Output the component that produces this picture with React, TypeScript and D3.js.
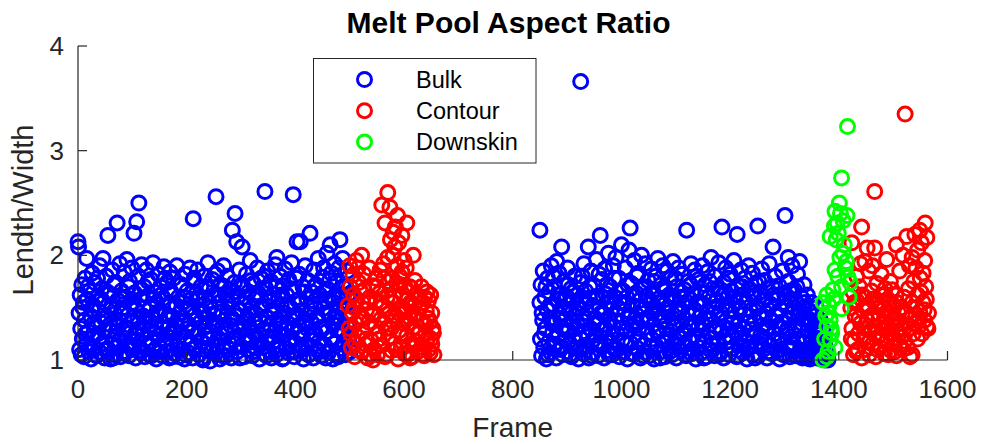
import React from "react";
import * as d3 from "d3";

// ---- Data (frame, length/width) ----
const bulk: [number, number][] = [
[0,2.13],[1,2.08],[2,1.45],[3,1.1],[4,1.62],[5,1.3],[6,1.05],[7,1.72],[8,1.2],[9,1.5],
[11,1.03],[12,1.38],[13,1.78],[15,1.15],[16,1.97],[17,1.58],[19,1.27],[20,1.08],[21,1.66],[23,1.42],
[24,1.01],[26,1.83],[27,1.21],[28,1.52],[30,1.12],[31,1.74],[33,1.33],[34,1.04],[35,1.6],[37,1.25],
[38,1.47],[40,1.9],[41,1.07],[42,1.36],[44,1.68],[45,1.16],[46,1.97],[47,1.55],[49,1.02],[50,1.29],
[52,1.8],[53,1.41],[55,2.19],[56,1.1],[57,1.63],[59,1.34],[60,1.01],[61,1.49],[63,1.86],[64,1.19],
[66,1.72],[67,1.05],[68,1.44],[70,1.27],[72,2.31],[73,1.57],[74,1.13],[76,1.38],[77,1.92],[78,1.03],
[80,1.66],[81,1.22],[83,1.5],[84,1.08],[85,1.84],[87,1.31],[88,1.6],[90,1.96],[91,1.15],[92,1.43],
[94,1.04],[95,1.75],[96,1.26],[98,1.54],[99,1.88],[100,1.1],[102,1.37],[103,2.21],[104,1.64],[106,1.02],
[107,1.48],[108,2.32],[109,1.19],[111,1.8],[112,2.5],[113,1.3],[115,1.07],[116,1.58],[117,1.91],[119,1.24],
[120,1.42],[122,1.7],[123,1.03],[124,1.35],[126,1.86],[127,1.14],[128,1.61],[130,1.28],[131,1.05],[133,1.5],
[134,1.77],[136,1.18],[137,1.4],[138,1.93],[140,1.09],[141,1.65],[143,1.32],[144,1.01],[145,1.55],[147,1.23],
[148,1.82],[150,1.46],[151,1.12],[152,1.7],[154,1.36],[155,1.04],[157,1.59],[158,1.89],[159,1.2],[161,1.44],
[162,1.08],[164,1.74],[165,1.3],[166,1.52],[168,1.02],[169,1.84],[171,1.25],[172,1.63],[173,1.14],[175,1.41],
[176,1.78],[178,1.06],[179,1.5],[180,1.33],[182,1.9],[183,1.18],[185,1.6],[186,1.03],[187,1.45],[189,1.27],
[190,1.72],[192,1.1],[193,1.55],[194,1.37],[196,1.01],[197,1.82],[199,1.22],[200,1.48],[201,1.66],[203,1.07],
[204,1.34],[206,1.88],[207,1.15],[208,1.58],[210,1.29],[211,1.02],[212,2.35],[213,1.75],[215,1.43],[216,1.11],
[218,1.64],[219,1.24],[220,1.86],[222,1.05],[223,1.52],[225,1.36],[226,1.7],[227,1.17],[229,1.47],[230,1.0],
[232,1.8],[233,1.31],[234,1.59],[236,1.09],[237,1.4],[239,1.93],[240,1.2],[241,1.68],[243,0.99],[244,1.5],
[246,1.27],[247,1.77],[248,1.14],[250,1.44],[251,1.62],[253,1.06],[254,2.56],[255,1.35],[257,1.85],[258,1.21],
[260,1.55],[261,1.01],[262,1.72],[264,1.3],[265,1.46],[267,1.12],[268,1.9],[269,1.38],[271,1.63],[272,1.04],
[274,1.25],[275,1.8],[276,1.49],[278,1.16],[279,1.67],[281,1.33],[282,1.02],[284,2.24],[285,1.57],[286,1.19],
[288,1.74],[289,2.4],[290,1.42],[292,2.13],[293,1.08],[295,1.61],[296,1.28],[297,1.86],[299,1.47],[300,1.13],
[302,2.08],[303,1.36],[304,1.7],[306,1.03],[307,1.54],[309,1.23],[310,1.82],[311,1.4],[313,1.1],[314,1.65],
[316,1.31],[317,1.95],[318,1.18],[320,1.5],[321,1.04],[323,1.73],[324,1.26],[325,1.58],[327,1.12],[328,1.44],
[330,1.88],[331,1.2],[332,1.64],[334,1.01],[335,1.37],[337,1.78],[338,1.15],[339,1.52],[341,1.29],[342,1.06],
[344,2.61],[345,1.69],[346,1.41],[348,1.22],[349,1.85],[351,1.09],[352,1.56],[353,1.33],[355,1.75],[356,1.02],
[358,1.48],[359,1.17],[360,1.63],[362,1.27],[363,1.91],[365,1.05],[366,1.98],[367,1.39],[369,1.6],[370,1.14],
[372,1.8],[373,1.3],[374,1.53],[376,1.01],[377,1.71],[379,1.24],[380,1.45],[381,1.87],[383,1.11],[384,1.62],
[386,1.35],[387,1.07],[388,1.77],[390,1.2],[391,1.5],[393,1.93],[394,1.28],[396,2.58],[397,1.66],[398,1.03],
[400,1.42],[401,1.16],[403,2.13],[404,1.57],[405,1.33],[407,1.82],[408,1.09],[409,2.13],[411,1.47],[412,1.22],
[414,1.7],[415,1.01],[416,1.38],[418,1.9],[419,1.13],[421,1.59],[422,1.3],[423,1.76],[425,1.05],[426,1.44],
[427,2.21],[428,1.19],[430,1.65],[431,1.35],[433,1.02],[434,1.86],[435,1.53],[437,1.25],[438,1.72],[440,1.1],
[441,1.41],[442,1.97],[444,1.18],[445,1.62],[447,1.31],[448,1.04],[450,1.79],[451,1.49],[452,1.88],[454,1.14],
[455,1.58],[457,1.27],[458,2.02],[459,1.68],[461,1.07],[462,1.43],[464,2.1],[465,1.21],[466,1.83],[468,1.35],
[469,1.01],[471,1.55],[472,1.92],[473,1.16],[475,1.74],[476,1.29],[478,1.46],[479,1.03],[480,1.88],[482,2.15],
[483,1.38],[485,1.6],[486,1.11],[487,1.97],[489,1.25],[490,1.52],[492,1.05],[493,1.7],[495,1.33],[496,1.85],
[498,1.19],[499,1.44],[501,1.08],[502,1.64],
[10,1.55],[14,1.25],[18,1.7],[22,1.12],[25,1.48],[29,1.35],[32,1.05],[36,1.78],[39,1.2],[43,1.58],
[48,1.4],[51,1.1],[54,1.65],[58,1.28],[62,1.52],[65,1.02],[69,1.74],[71,1.35],[75,1.18],[79,1.45],
[82,1.6],[86,1.06],[89,1.3],[93,1.7],[97,1.14],[101,1.55],[105,1.25],[110,1.4],[114,1.68],[118,1.09],
[121,1.5],[125,1.2],[129,1.75],[132,1.37],[135,1.04],[139,1.58],[142,1.26],[146,1.45],[149,1.08],[153,1.62],
[156,1.3],[160,1.78],[163,1.15],[167,1.42],[170,1.66],[174,1.03],[177,1.28],[181,1.52],[184,1.1],[188,1.72],
[191,1.36],[195,1.6],[198,1.05],[202,1.3],[205,1.5],[209,1.16],[214,1.78],[217,1.38],[221,1.26],[224,1.6],
[228,1.02],[231,1.45],[235,1.7],[238,1.24],[242,1.55],[245,1.08],[249,1.35],[252,1.82],[256,1.14],[259,1.62],
[263,1.42],[266,1.04],[270,1.7],[273,1.3],[277,1.55],[280,1.1],[283,1.4],[287,1.65],[291,1.22],[294,1.48],
[298,1.02],[301,1.72],[305,1.3],[308,1.6],[312,1.18],[315,1.44],[319,1.76],[322,1.08],[326,1.35],[329,1.62],
[333,1.25],[336,1.5],[340,1.12],[343,1.8],[347,1.04],[350,1.4],[354,1.6],[357,1.22],[361,1.45],[364,1.7],
[368,1.1],[371,1.35],[375,1.62],[378,1.02],[382,1.3],[385,1.52],[389,1.15],[392,1.68],[395,1.42],[399,1.08],
[402,1.78],[406,1.26],[410,1.55],[413,1.12],[417,1.65],[420,1.36],[424,1.05],[429,1.5],[432,1.25],[436,1.7],
[439,1.4],[443,1.08],[446,1.55],[449,1.3],[453,1.65],[456,1.02],[460,1.45],[463,1.76],[467,1.2],[470,1.6],
[474,1.4],[477,1.06],[481,1.52],[484,1.28],[488,1.7],[491,1.15],[494,1.42],[497,1.62],[500,1.3],
[850,1.55],[850,2.24],[851,1.2],[852,1.72],[853,1.04],[855,1.38],[856,1.85],[857,1.12],[859,1.6],[860,1.3],
[862,1.01],[863,1.48],[864,1.78],[866,1.17],[867,1.65],[869,1.4],[870,1.07],[871,1.9],[873,1.26],[874,1.53],
[876,1.14],[877,1.7],[878,1.35],[880,1.02],[881,1.94],[882,1.58],[883,1.22],[885,1.83],[886,1.44],[887,1.1],
[889,1.63],[890,2.08],[890,1.31],[892,1.05],[893,1.5],[894,1.75],[896,1.19],[897,1.39],[899,1.61],[900,1.08],
[901,1.88],[903,1.28],[904,1.47],[906,1.15],[907,1.68],[908,1.03],[910,1.36],[911,1.56],[913,1.23],[914,1.8],
[915,1.42],[917,1.11],[918,1.62],[920,1.33],[921,1.01],[922,1.49],[924,1.74],[925,3.66],[926,1.2],[927,1.57],
[929,1.37],[930,1.06],[931,1.92],[933,1.27],[934,1.66],[936,1.13],[937,1.45],[939,2.08],[940,1.02],[941,1.59],
[943,1.3],[944,1.85],[946,1.18],[947,1.52],[948,1.07],[950,1.71],[951,1.4],[953,1.24],[954,1.96],[955,1.61],
[957,1.04],[958,1.35],[960,1.5],[961,2.19],[962,1.15],[964,1.77],[965,1.29],[967,1.44],[968,1.02],[969,1.87],
[971,1.63],[972,1.21],[974,1.55],[975,1.09],[976,2.02],[978,1.38],[979,1.7],[981,1.17],[982,1.48],[983,1.05],
[985,1.9],[986,1.32],[988,1.6],[989,1.12],[990,1.98],[992,1.43],[993,1.25],[995,1.78],[996,1.03],[997,1.55],
[999,1.36],[1000,2.1],[1002,1.19],[1003,1.66],[1004,1.08],[1006,1.47],[1007,1.88],[1009,1.28],[1010,1.6],[1011,1.01],
[1013,1.4],[1014,2.05],[1016,2.26],[1017,1.16],[1018,1.73],[1020,1.33],[1021,1.52],[1023,1.06],[1024,1.95],[1025,1.24],
[1027,1.64],[1028,1.43],[1030,1.11],[1031,1.83],[1032,1.3],[1034,1.57],[1035,1.02],[1037,2.0],[1038,1.38],[1039,1.68],
[1041,1.15],[1042,1.49],[1044,1.92],[1045,1.07],[1046,1.61],[1048,1.26],[1049,1.76],[1051,1.41],[1052,1.04],[1053,1.55],
[1055,1.87],[1056,1.2],[1058,1.65],[1059,1.34],[1060,1.01],[1062,1.5],[1063,1.8],[1065,1.13],[1066,1.44],[1067,1.97],
[1069,1.27],[1070,1.59],[1072,1.08],[1073,1.72],[1074,1.37],[1076,1.9],[1077,1.18],[1079,1.53],[1080,1.03],[1081,1.66],
[1083,1.3],[1084,1.85],[1086,1.45],[1087,1.11],[1088,1.62],[1090,1.24],[1091,1.78],[1093,1.05],[1094,1.4],[1095,1.94],
[1097,1.16],[1098,1.57],[1100,1.32],[1101,1.02],[1102,1.7],[1104,1.48],[1105,1.88],[1107,1.21],[1108,1.6],[1109,1.09],
[1111,1.36],[1112,1.82],[1114,1.52],[1115,1.14],[1116,1.67],[1118,1.28],[1119,1.04],[1120,2.24],[1122,1.44],[1123,1.75],
[1125,1.19],[1126,1.58],[1128,1.92],[1129,1.06],[1130,1.35],[1132,1.63],[1133,1.23],[1135,1.86],[1136,1.47],[1137,1.01],
[1139,1.55],[1140,1.3],[1142,1.77],[1143,1.12],[1144,1.41],[1146,1.65],[1147,1.07],[1149,1.9],[1150,1.34],[1151,1.53],
[1153,1.18],[1154,1.72],[1156,1.03],[1157,1.46],[1158,1.84],[1160,1.26],[1161,1.6],[1163,1.1],[1164,1.39],[1165,1.98],
[1167,1.21],[1168,1.68],[1170,1.5],[1171,1.04],[1172,1.8],[1174,1.32],[1175,1.57],[1177,1.15],[1178,1.43],[1179,1.93],
[1181,1.08],[1182,1.64],[1184,1.27],[1185,2.27],[1186,1.52],[1188,1.02],[1189,1.74],[1191,1.37],[1192,1.88],[1193,1.17],
[1195,1.6],[1196,1.3],[1198,1.05],[1199,1.47],[1200,1.82],[1202,1.22],[1203,1.66],[1205,1.11],[1206,1.4],[1207,1.95],
[1209,1.28],[1210,1.56],[1212,1.03],[1213,2.2],[1214,1.71],[1216,1.34],[1217,1.5],[1219,1.14],[1220,1.86],[1221,1.25],
[1223,1.62],[1224,1.07],[1226,1.44],[1227,1.78],[1228,1.19],[1230,1.55],[1231,1.01],[1233,1.36],[1234,1.9],[1235,1.68],
[1237,1.12],[1238,1.47],[1240,1.29],[1241,1.83],[1242,1.05],[1244,1.6],[1245,1.38],[1247,1.73],[1248,1.16],[1249,1.51],
[1251,2.28],[1252,1.04],[1254,1.42],[1255,1.65],[1256,1.23],[1258,1.87],[1259,1.33],[1261,1.1],[1262,1.57],[1263,1.76],
[1265,1.2],[1266,1.45],[1268,1.02],[1269,1.68],[1270,1.3],[1272,1.92],[1273,1.14],[1275,1.53],[1276,1.37],[1277,1.06],
[1279,2.08],[1280,1.62],[1282,1.25],[1283,1.8],[1284,1.44],[1286,1.09],[1287,1.58],[1289,1.33],[1290,1.71],[1291,1.01],
[1293,1.48],[1294,1.19],[1296,1.85],[1297,1.36],[1298,1.05],[1300,1.63],[1301,2.38],[1303,1.27],[1304,1.52],[1305,1.12],
[1307,1.98],[1307,1.75],[1308,1.4],[1310,1.03],[1311,1.58],[1312,1.22],[1314,1.9],[1315,1.46],[1317,1.15],[1318,1.67],
[1319,1.31],[1321,1.04],[1322,1.55],[1324,1.82],[1325,1.2],[1326,1.42],[1328,1.94],[1329,1.09],[1331,1.6],[1332,1.35],
[1333,1.02],[1335,1.5],[1336,1.72],[1338,1.17],[1339,1.4],[1340,1.06],[1342,1.62],[1343,1.28],[1345,1.11],[1346,1.47],
[1347,1.01],[1349,1.35],[1350,1.55],[1352,1.19],[1353,1.04],[1354,1.42],[1356,1.26],[1357,1.1],[1359,1.5],[1360,1.02],
[1361,1.33],[1363,1.16],[1364,1.07],[1366,1.38],[1367,1.21],[1368,1.01],[1370,1.12],[1371,1.29],[1373,1.05],[1374,1.18],
[1375,1.0],[1377,1.1],[1378,1.03],[1380,1.0],
[854,1.45],[858,1.25],[861,1.7],[865,1.05],[868,1.52],[872,1.35],[875,1.8],[879,1.15],[884,1.62],[888,1.4],
[891,1.12],[895,1.58],[898,1.28],[902,1.72],[905,1.05],[909,1.45],[912,1.65],[916,1.3],[919,1.5],[923,1.1],
[928,1.8],[932,1.4],[935,1.55],[938,1.22],[942,1.7],[945,1.04],[949,1.35],[952,1.6],[956,1.15],[959,1.82],
[963,1.45],[966,1.6],[970,1.3],[973,1.72],[977,1.05],[980,1.55],[984,1.25],[987,1.78],[991,1.1],[994,1.5],
[998,1.66],[1001,1.3],[1005,1.55],[1008,1.15],[1012,1.72],[1015,1.42],[1019,1.06],[1022,1.62],[1026,1.35],[1029,1.8],
[1033,1.2],[1036,1.5],[1040,1.04],[1043,1.7],[1047,1.38],[1050,1.58],[1054,1.12],[1057,1.45],[1061,1.75],[1064,1.28],
[1068,1.55],[1071,1.02],[1075,1.42],[1078,1.68],[1082,1.2],[1085,1.5],[1089,1.08],[1092,1.6],[1096,1.35],[1099,1.78],
[1103,1.14],[1106,1.45],[1110,1.65],[1113,1.25],[1117,1.05],[1121,1.55],[1124,1.32],[1127,1.72],[1131,1.1],[1134,1.48],
[1138,1.8],[1141,1.2],[1145,1.55],[1148,1.36],[1152,1.02],[1155,1.64],[1159,1.4],[1162,1.75],[1166,1.15],[1169,1.5],
[1173,1.28],[1176,1.68],[1180,1.05],[1183,1.45],[1187,1.62],[1190,1.22],[1194,1.52],[1197,1.78],[1201,1.1],[1204,1.35],
[1208,1.6],[1211,1.26],[1215,1.04],[1218,1.48],[1222,1.7],[1225,1.3],[1229,1.55],[1232,1.12],[1236,1.42],[1239,1.64],
[1243,1.22],[1246,1.02],[1250,1.5],[1253,1.75],[1257,1.15],[1260,1.4],[1264,1.6],[1267,1.3],[1271,1.08],[1274,1.52],
[1278,1.7],[1281,1.18],[1285,1.42],[1288,1.62],[1292,1.1],[1295,1.36],[1299,1.55],[1302,1.05],[1306,1.3],[1309,1.66],
[1313,1.12],[1316,1.5],[1320,1.28],[1323,1.7],[1327,1.05],[1330,1.45],[1334,1.22],[1337,1.55],[1341,1.02],[1344,1.38],
[1348,1.22],[1351,1.45],[1355,1.08],[1358,1.3],[1362,1.15],[1365,1.25],[1369,1.06],[1372,1.15]
];

const contour: [number, number][] = [
[497,1.52],[499,1.3],[500,1.9],[501,1.7],[503,1.12],[505,1.45],[506,1.81],[507,1.62],[509,1.03],[510,1.16],
[511,1.35],[512,1.95],[513,1.58],[515,1.22],[515,1.88],[517,1.74],[519,1.41],[521,1.08],[522,2.0],[523,1.55],
[525,1.27],[526,1.82],[527,1.67],[529,1.15],[531,1.48],[533,1.02],[535,1.36],[536,1.88],[537,1.6],[539,1.19],
[541,1.43],[543,1.71],[543,1.0],[545,1.1],[547,1.32],[548,1.78],[549,1.56],[551,1.05],[553,1.25],[555,1.64],
[556,1.86],[557,1.39],[559,1.14],[559,2.48],[561,1.51],[562,1.92],[563,1.78],[565,1.03],[565,2.31],[567,1.3],
[569,1.6],[570,2.6],[570,1.98],[571,1.21],[573,1.45],[574,2.46],[575,1.68],[575,2.15],[577,1.09],[578,1.78],
[579,1.37],[580,2.22],[580,2.0],[581,1.55],[583,1.16],[583,2.08],[584,2.27],[585,1.42],[587,1.73],[587,1.9],
[588,2.38],[589,1.01],[590,2.12],[591,1.28],[592,1.8],[593,1.5],[593,1.72],[595,1.12],[596,2.19],[596,1.84],
[597,1.63],[599,1.35],[600,1.95],[601,1.06],[603,1.46],[604,1.88],[605,1.23],[605,2.31],[607,1.58],[609,1.14],
[610,1.7],[611,1.4],[611,1.02],[613,1.69],[615,1.03],[617,1.31],[617,2.0],[619,1.52],[620,1.76],[621,1.18],
[623,1.44],[625,1.08],[627,1.6],[629,1.27],[631,1.38],[632,1.7],[633,1.12],[635,1.55],[637,1.04],[639,1.33],
[641,1.47],[642,1.65],[643,1.2],[645,1.1],[645,1.57],[647,1.36],[648,1.07],[649,1.62],[651,1.15],[651,1.45],
[653,1.3],[654,1.26],[655,1.05],
[502,1.25],[508,1.5],[514,1.1],[520,1.65],[524,1.4],[530,1.2],[534,1.55],[538,1.05],[544,1.45],[550,1.7],
[554,1.2],[558,1.55],[564,1.35],[568,1.05],[572,1.75],[576,1.3],[582,1.6],[586,1.1],[590,1.45],[594,1.25],
[598,1.5],[602,1.7],[606,1.05],[608,1.35],[612,1.55],[616,1.15],[618,1.42],[622,1.62],[626,1.25],[630,1.5],
[634,1.05],[638,1.6],[640,1.25],[644,1.4],[650,1.2],
[1422,1.5],[1424,1.3],[1424,2.12],[1426,1.65],[1427,1.05],[1428,1.18],[1430,1.42],[1432,1.08],[1433,1.8],[1434,1.56],
[1436,1.25],[1438,1.7],[1440,1.35],[1440,1.92],[1442,1.02],[1442,2.27],[1444,1.48],[1446,1.2],[1448,1.6],[1448,1.94],
[1450,1.1],[1452,1.38],[1452,2.07],[1454,1.52],[1455,1.85],[1456,1.05],[1458,1.28],[1460,1.66],[1462,1.15],[1462,1.9],
[1464,1.44],[1466,1.32],[1466,2.61],[1466,2.07],[1468,1.03],[1470,1.55],[1470,1.73],[1472,1.22],[1474,1.4],[1476,1.12],
[1478,1.62],[1478,1.82],[1480,1.3],[1482,1.48],[1484,1.06],[1485,1.68],[1486,1.36],[1488,1.18],[1488,1.96],[1490,1.58],
[1492,1.26],[1494,1.42],[1495,1.75],[1496,1.09],[1498,1.33],[1498,1.67],[1500,1.5],[1502,1.2],[1504,1.38],[1505,1.62],
[1506,1.04],[1506,2.1],[1508,1.28],[1510,1.45],[1512,1.14],[1512,1.85],[1514,1.35],[1515,1.5],[1516,1.22],[1518,1.1],
[1518,2.0],[1520,1.3],[1520,1.6],[1522,3.35],[1525,2.18],[1525,1.45],[1528,1.68],[1530,1.9],[1530,1.3],[1531,1.03],
[1535,1.05],[1535,1.98],[1535,1.55],[1538,1.75],[1540,2.2],[1540,1.35],[1542,1.88],[1545,2.05],[1545,1.62],[1545,1.2],
[1548,1.4],[1549,2.24],[1549,1.46],[1550,1.78],[1552,2.12],[1553,1.25],[1555,1.83],[1555,1.55],[1558,1.95],[1558,1.38],
[1559,2.31],[1560,1.7],[1562,2.17],[1562,1.32],[1565,1.45],
[1423,1.2],[1429,1.55],[1435,1.1],[1437,1.4],[1443,1.62],[1447,1.3],[1451,1.5],[1457,1.18],[1459,1.42],[1463,1.58],
[1467,1.25],[1471,1.1],[1475,1.5],[1479,1.2],[1483,1.62],[1487,1.42],[1491,1.05],[1493,1.55],[1497,1.25],[1501,1.4],
[1503,1.08],[1507,1.55],[1511,1.25],[1517,1.45],[1521,1.18],[1527,1.12],[1533,1.4],[1537,1.25],[1543,1.5],[1547,1.32],
[1551,1.65],[1557,1.48],[1561,1.58],[1564,1.3]
];

const downskin: [number, number][] = [
[1371,1.0],[1371,1.55],[1374,1.2],[1376,1.42],[1378,1.62],[1378,1.32],[1378,1.03],[1380,1.45],[1380,1.08],[1382,1.52],
[1384,2.18],[1384,1.38],[1384,1.19],[1386,1.3],[1387,1.26],[1389,1.67],[1390,1.58],[1392,2.28],[1393,2.42],[1393,1.86],
[1393,1.12],[1395,2.15],[1397,2.31],[1398,1.8],[1399,2.21],[1401,2.5],[1402,1.98],[1403,2.4],[1405,2.74],[1405,1.7],
[1405,1.49],[1408,2.33],[1408,2.02],[1410,2.1],[1412,1.88],[1414,1.94],[1415,2.38],[1416,3.23],[1417,1.79],[1419,1.6],
[1421,1.74]
];

const xTicks = [0, 200, 400, 600, 800, 1000, 1200, 1400, 1600];
const yTicks = [1, 2, 3, 4];
const legendLabels = ["Bulk", "Contour", "Downskin"];
const seriesColors = ["#0000ff", "#ff0000", "#00ff00"];

const FONT = "'Liberation Sans', Arial, Helvetica, sans-serif";
const AX = "#262626";

export default function App() {
  const x = d3.scaleLinear().domain([0, 1600]).range([78, 947.5]);
  const y = d3.scaleLinear().domain([1, 4]).range([360, 46]);
  const series = [bulk, contour, downskin];
  const tickLen = 9;

  return (
    <svg
      width={981}
      height={444}
      style={{ position: "absolute", left: 0, top: 0, background: "#fff" }}
      fontFamily={FONT}
    >
      <rect x={0} y={0} width={981} height={444} fill="#fff" />
      {/* markers */}
      {series.map((s, si) => (
        <g key={si} fill="none" stroke={seriesColors[si]} strokeWidth={3}>
          {s.map((d, i) => (
            <circle key={i} cx={x(d[0])} cy={y(d[1])} r={7} />
          ))}
        </g>
      ))}
      {/* axes */}
      <g stroke={AX} strokeWidth={1.2} fill="none">
        <line x1={x(0)} x2={x(1600)} y1={y(1)} y2={y(1)} />
        <line x1={x(0)} x2={x(0)} y1={y(1)} y2={y(4)} />
        {xTicks.map((t) => (
          <line key={t} x1={x(t)} x2={x(t)} y1={y(1)} y2={y(1) - tickLen} />
        ))}
        {yTicks.map((t) => (
          <line key={t} x1={x(0)} x2={x(0) + tickLen} y1={y(t)} y2={y(t)} />
        ))}
      </g>
      <g fill={AX} fontSize={26}>
        {xTicks.map((t) => (
          <text key={t} x={x(t)} y={y(1) + 38} textAnchor="middle">
            {t}
          </text>
        ))}
        {yTicks.map((t) => (
          <text key={t} x={x(0) - 14} y={y(t) + 9} textAnchor="end">
            {t}
          </text>
        ))}
      </g>
      <text x={512.75} y={437} textAnchor="middle" fontSize={28} fill={AX}>
        Frame
      </text>
      <text
        transform={`translate(33,${210}) rotate(-90)`}
        textAnchor="middle"
        fontSize={29}
        fill={AX}
      >
        Lendth/Width
      </text>
      <text x={508.5} y={33} textAnchor="middle" fontSize={30} fontWeight="bold" fill="#000">
        Melt Pool Aspect Ratio
      </text>
      {/* legend */}
      <rect x={313.5} y={58.5} width={222.5} height={104.5} fill="#fff" stroke={AX} strokeWidth={1} />
      {legendLabels.map((l, i) => (
        <g key={l}>
          <circle cx={364.5} cy={79.5 + i * 31.2} r={7} fill="none" stroke={seriesColors[i]} strokeWidth={3} />
          <text x={416} y={79.5 + i * 31.2 + 8.5} fontSize={23.5} fill="#000">
            {l}
          </text>
        </g>
      ))}
    </svg>
  );
}
